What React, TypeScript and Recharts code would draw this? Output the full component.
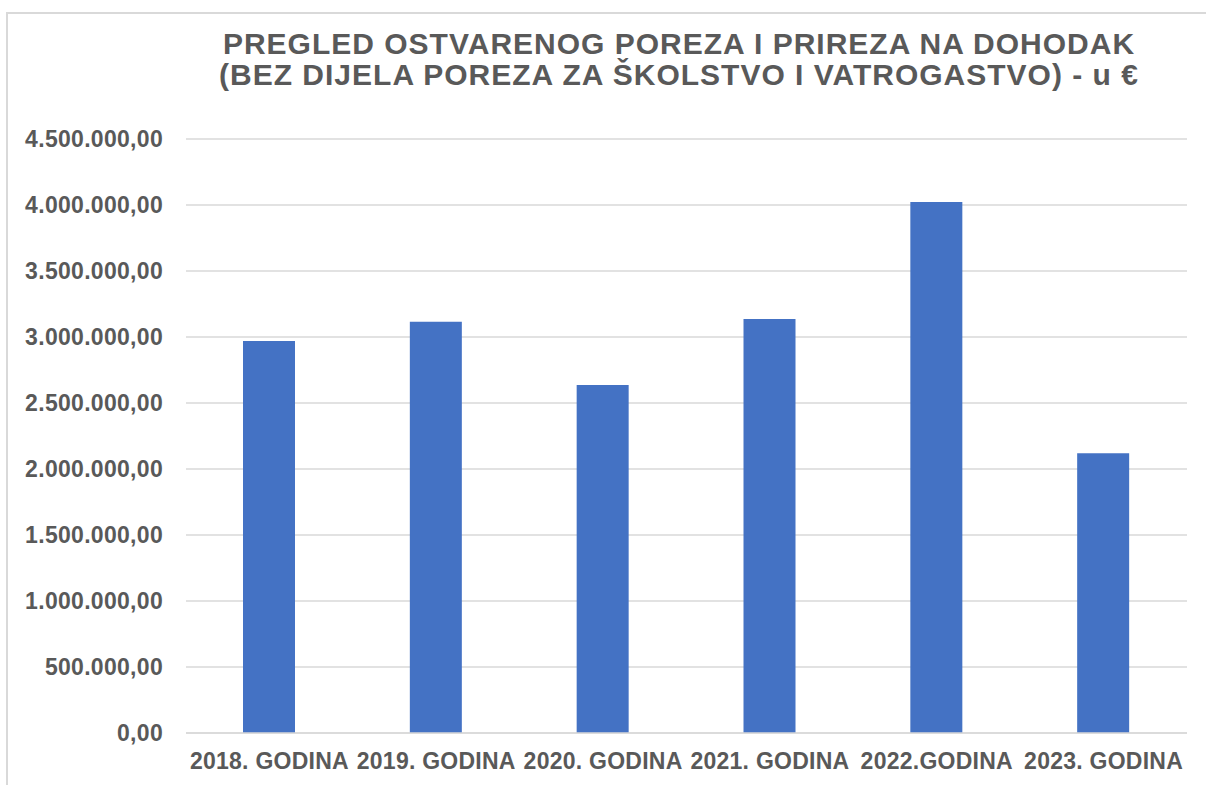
import React from 'react';
import { BarChart, Bar, XAxis, YAxis, CartesianGrid } from 'recharts';

const categories = [
  '2018. GODINA',
  '2019. GODINA',
  '2020. GODINA',
  '2021. GODINA',
  '2022.GODINA',
  '2023. GODINA',
];
const values = [2970000, 3116000, 2636000, 3136000, 4023000, 2119000];
const yTicks = [0, 500000, 1000000, 1500000, 2000000, 2500000, 3000000, 3500000, 4000000, 4500000];
const titleLines = [
  'PREGLED OSTVARENOG POREZA I PRIREZA NA DOHODAK',
  '(BEZ DIJELA POREZA ZA ŠKOLSTVO I VATROGASTVO) - u €',
];

const data = categories.map((name, i) => ({ name, value: values[i] }));

const FONT = '"Liberation Sans", Arial, sans-serif';
const TEXT = '#595959';

function fmt(v: number): string {
  const s = Math.round(v).toString();
  const parts: string[] = [];
  for (let i = s.length; i > 0; i -= 3) {
    parts.unshift(s.substring(Math.max(0, i - 3), i));
  }
  return parts.join('.') + ',00';
}

const YTick = (props: any) => {
  const { x, y, payload } = props;
  return (
    <text x={x - 23} y={y + 8.3} textAnchor="end" fontFamily={FONT} fontWeight="bold" fontSize={23} fill={TEXT} letterSpacing={0.3}>
      {fmt(payload.value)}
    </text>
  );
};

const XTick = (props: any) => {
  const { x, y, payload } = props;
  return (
    <text x={x} y={y + 36} textAnchor="middle" fontFamily={FONT} fontWeight="bold" fontSize={23} fill={TEXT} letterSpacing={0.25}>
      {payload.value}
    </text>
  );
};

export default function App() {
  return (
    <div style={{ position: 'absolute', left: 0, top: 0, width: 1206, height: 785, background: '#fff', overflow: 'hidden' }}>
      <div style={{ position: 'absolute', left: 6, top: 12, width: 1220, height: 800, border: '2px solid #d9d9d9', boxSizing: 'border-box' }} />
      <div style={{ position: 'absolute', left: 0, top: 0 }}>
        <BarChart width={1206} height={785} data={data} margin={{ top: 139, right: 19, bottom: 0, left: 0 }}>
          <CartesianGrid vertical={false} stroke="#d9d9d9" strokeWidth={1.5} />
          <XAxis
            dataKey="name"
            height={52}
            axisLine={{ stroke: '#d9d9d9', strokeWidth: 1.5 }}
            tickLine={false}
            tickSize={0}
            tickMargin={0}
            interval={0}
            tick={<XTick />}
          />
          <YAxis
            width={186}
            domain={[0, 4500000]}
            ticks={yTicks}
            axisLine={false}
            tickLine={false}
            tickSize={0}
            tickMargin={0}
            interval={0}
            tick={<YTick />}
          />
          <Bar dataKey="value" fill="#4472C4" barSize={52} isAnimationActive={false} />
        </BarChart>
      </div>
      <svg width={1206} height={120} style={{ position: 'absolute', left: 0, top: 0 }}>
        {titleLines.map((t, i) => (
          <text key={i} x={679} y={53.5 + i * 31} textAnchor="middle" fontFamily={FONT} fontWeight="bold" fontSize={30} fill={TEXT} letterSpacing={1}>
            {t}
          </text>
        ))}
      </svg>
    </div>
  );
}
